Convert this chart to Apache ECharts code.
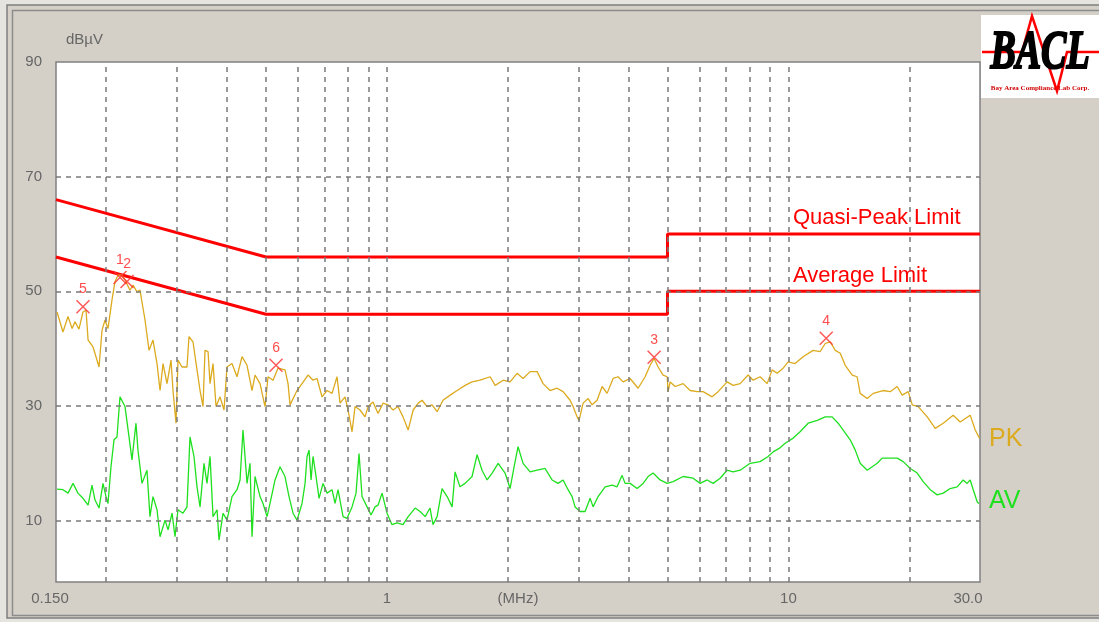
<!DOCTYPE html>
<html>
<head>
<meta charset="utf-8">
<script src="https://cdn.jsdelivr.net/npm/echarts@6.0.0/dist/echarts.min.js"></script>
<style>
  body { margin: 0; background: #e6e4de; }
  #chart { width: 1099px; height: 622px; }
</style>
</head>
<body>
<div id="chart"></div>
<script>
    // frequency in MHz, level in dBuV
    var pkFreq = [0.1509,0.1561,0.1607,0.1645,0.1673,0.1711,0.1751,0.1782,0.1803,0.1855,
        0.1920,0.1953,0.1987,0.2021,0.2068,0.2104,0.2140,0.2190,0.2228,0.2293,
        0.2333,0.2387,0.2428,0.2499,0.2557,0.2616,0.2677,0.2724,0.2771,0.2835,
        0.2901,0.2934,0.2985,0.3019,0.3089,0.3179,0.3216,0.3290,0.3367,0.3426,
        0.3485,0.3525,0.3587,0.3628,0.3691,0.3755,0.3842,0.3931,0.3999,0.4115,
        0.4235,0.4358,0.4486,0.4616,0.4696,0.4833,0.4973,0.5060,0.5207,0.5358,
        0.5577,0.5675,0.5740,0.5975,
        0.6149,0.6365,0.6550,0.6701,0.6896,0.7097,0.7303,0.7516,0.7646,0.7869,
        0.8005,0.8191,0.8333,0.8575,0.8825,0.8978,0.9239,0.9508,0.9785,1.007,
        1.036,1.066,1.097,1.130,1.163,1.197,1.224,1.259,1.296,1.334,
        1.380,1.438,1.496,1.566,1.630,1.707,1.808,1.861,1.948,2.027,
        2.110,2.184,2.274,2.367,
        2.449,2.550,2.654,2.747,2.860,2.909,2.977,3.011,3.081,3.171,
        3.245,3.339,3.436,3.536,3.660,3.766,3.875,4.034,4.224,4.397,
        4.525,4.630,4.737,4.875,4.989,5.017,5.075,5.223,5.468,5.692,
        5.925,6.132,6.457,6.683,7.037,7.284,7.582,7.938,8.169,8.504,
        8.852,9.109,9.375,
        9.703,9.985,10.39,10.88,11.52,12.00,12.35,12.71,13.08,13.46,
        13.85,14.42,14.83,15.09,15.71,16.26,17.22,17.93,18.66,19.20,
        19.88,20.34,21.05,22.17,23.21,24.30,25.72,26.78,28.36,29.19,
        29.90];
    var pkLevel = [46.4,42.9,45.6,43.5,44.7,43.4,46.4,46.7,41.5,40.3,
        36.8,43.2,45.0,43.5,48.5,51.7,52.8,52.8,52.0,50.2,
        51.1,49.9,50.2,45.0,39.7,41.5,37.4,32.7,37.4,33.9,
        38.0,32.7,27.0,38.0,36.8,36.8,42.1,41.2,36.3,32.7,
        29.9,39.7,39.5,33.9,37.4,29.9,31.6,29.3,36.8,37.4,
        35.1,38.6,37.1,32.7,35.4,33.9,29.9,35.1,34.5,36.6,
        36.3,33.9,30.2,32.7,
        33.9,35.4,34.5,34.8,31.6,32.7,32.2,35.1,30.5,31.6,
        29.3,25.5,29.9,29.3,28.1,29.9,30.7,28.7,30.5,30.2,
        29.3,29.9,28.1,25.8,29.3,30.5,31.0,29.9,30.2,29.0,
        31.0,31.9,32.7,33.6,34.2,34.5,35.1,33.6,34.5,34.2,
        35.7,34.8,36.0,36.0,
        33.9,32.7,33.1,32.5,31.0,29.9,28.1,27.5,30.5,31.3,
        30.2,31.0,33.4,32.2,34.8,35.1,34.2,34.8,33.1,35.1,
        37.1,38.3,36.8,35.4,35.1,32.5,34.2,33.4,33.9,32.7,
        32.5,32.5,31.6,32.5,34.2,33.6,33.9,35.4,34.5,35.1,
        33.9,36.3,35.7,
        36.6,37.7,37.4,38.6,39.7,39.5,40.9,41.2,39.7,39.2,
        37.1,35.4,35.1,32.2,31.3,32.2,32.7,32.5,33.4,31.9,
        32.5,30.2,29.9,28.1,26.1,27.0,28.4,27.2,28.4,25.8,
        24.4];

    var avFreq = [0.1509,0.1561,0.1607,0.1654,0.1701,0.1751,0.1803,0.1844,0.1876,0.1920,
        0.1964,0.1998,0.2021,0.2056,0.2092,0.2128,0.2165,0.2228,0.2280,0.2319,
        0.2373,0.2400,0.2456,0.2527,0.2571,0.2616,0.2677,0.2724,0.2803,0.2852,
        0.2918,0.2968,0.3019,0.3107,0.3179,0.3234,0.3309,0.3367,0.3426,0.3505,
        0.3566,0.3628,0.3691,0.3777,0.3820,0.3909,0.3999,0.4115,0.4235,0.4309,
        0.4383,0.4486,0.4563,0.4616,0.4696,0.4833,0.4916,0.5031,0.5118,0.5267,
        0.5420,0.5577,0.5707,0.5840,0.5975,0.6149,
        0.6256,0.6328,0.6401,0.6475,0.6550,0.6663,0.6779,0.6936,0.7097,0.7303,
        0.7430,0.7559,0.7779,0.7960,0.8191,0.8381,0.8526,0.8674,0.8927,0.9134,
        0.9346,0.9508,0.9729,1.001,1.030,1.060,1.097,1.130,1.176,1.210,
        1.246,1.281,1.303,1.334,1.372,1.413,1.454,1.479,1.521,1.566,
        1.630,1.678,1.726,1.777,1.829,1.893,1.970,2.027,2.074,2.122,
        2.184,2.274,2.367,
        2.478,2.579,2.669,2.747,2.827,2.893,2.943,3.029,3.117,3.208,
        3.263,3.358,3.496,3.639,3.744,3.853,3.920,4.034,4.200,4.347,
        4.473,4.603,4.792,4.989,5.163,5.468,5.791,6.028,6.275,6.495,
        6.760,7.037,7.284,7.582,8.030,8.504,8.902,9.161,9.483,
        9.815,10.28,10.69,11.20,11.80,12.35,12.85,13.30,13.69,14.25,
        14.67,15.09,15.71,16.17,16.64,17.12,17.93,18.66,19.31,20.11,
        20.93,21.66,22.55,23.47,24.30,25.28,26.32,27.24,27.88,28.36,
        28.86,29.52,29.80];
    var avLevel = [15.5,15.4,14.8,16.5,14.8,13.9,12.7,16.2,13.6,12.2,
        16.5,14.2,13.0,19.4,24.1,24.6,31.6,29.9,24.6,20.6,
        27.0,22.3,16.5,18.8,10.7,14.2,11.9,7.2,10.1,8.4,
        11.3,7.2,11.9,11.3,12.4,24.6,21.2,15.9,12.4,20.0,
        16.5,21.2,10.7,11.9,6.6,11.3,10.1,14.2,15.4,17.1,
        25.8,16.5,20.0,7.2,17.7,14.2,13.0,10.7,13.0,17.1,
        19.4,17.7,14.2,11.3,10.1,13.0,
        16.5,21.2,22.3,17.1,21.2,17.7,13.9,16.5,14.8,15.4,
        13.0,15.4,10.7,10.4,12.4,14.8,21.7,14.2,12.4,11.0,
        12.4,12.7,14.8,11.3,9.3,9.6,9.3,10.7,12.2,11.6,
        10.7,12.2,9.3,10.7,15.6,14.2,12.4,18.5,15.9,16.5,
        17.7,21.5,18.8,17.1,18.3,20.0,18.3,15.6,19.4,22.9,
        20.0,18.5,18.8,
        19.1,17.1,16.5,17.1,15.4,14.2,12.4,11.6,11.6,13.9,
        12.4,14.2,15.9,16.2,15.9,17.9,16.5,16.5,15.6,16.5,
        17.7,18.3,17.1,16.5,16.8,17.7,17.4,16.5,17.1,16.5,
        17.4,18.8,18.5,18.8,20.0,20.3,21.2,22.0,22.6,
        23.5,24.4,25.5,27.0,27.5,28.1,28.1,27.0,25.8,24.1,
        22.3,20.0,18.8,19.4,20.0,20.9,20.9,20.9,20.3,19.1,
        18.3,16.8,15.4,14.5,14.8,15.6,15.9,17.1,16.5,17.1,
        15.4,13.3,13.0];

    var limitFreq = [0.15, 0.5, 5, 5, 30];
    var qpLimit = [66, 56, 56, 60, 60];
    var avLimit = [56, 46, 46, 50, 50];

    var markerName = ['1', '2', '3', '4', '5', '6'];
    var markerFreq = [0.2165, 0.2254, 4.630, 12.42, 0.1751, 0.5297];
    var markerLevel = [52.4, 51.7, 38.5, 41.8, 47.3, 37.1];

    var vGrid = [0.2, 0.3, 0.4, 0.5, 0.6, 0.7, 0.8, 0.9, 1, 2, 3, 4, 5, 6, 7, 8, 9, 10, 20];
    var hGrid = [10, 30, 50, 70];
    var yLabels = [10, 30, 50, 70, 90];

    function pairs(xs, ys) {
        return xs.map(function (x, i) { return [x, ys[i]]; });
    }

    var font = 'Liberation Sans';
    var myChart = echarts.init(document.getElementById('chart'));
    var option;

    option = {
        animation: false,
        grid: {
            left: 56, top: 62, width: 924, height: 520,
            outerBoundsMode: 'none',
            show: true, backgroundColor: '#ffffff',
            borderColor: '#808080', borderWidth: 1.5
        },
        xAxis: {
            type: 'log', logBase: 10, min: 0.15, max: 30,
            axisLine: {show: false}, axisTick: {show: false}, splitLine: {show: false},
            axisLabel: {
                margin: 9, showMinLabel: true, showMaxLabel: true,
                color: '#666', fontSize: 15, fontFamily: font,
                formatter: function (v) {
                    if (Math.abs(v - 0.15) < 1e-6) return '{lo|0.150}';
                    if (Math.abs(v - 30) < 1e-6) return '{hi|30.0}';
                    return String(Math.round(v));
                },
                rich: {
                    lo: {color: '#666', fontSize: 15, fontFamily: font, padding: [0, 12, 0, 0]},
                    hi: {color: '#666', fontSize: 15, fontFamily: font, padding: [0, 24, 0, 0]}
                }
            },
            name: '(MHz)', nameLocation: 'middle', nameGap: 9, nameMoveOverlap: false,
            nameTextStyle: {color: '#666', fontSize: 15, fontFamily: font, verticalAlign: 'top'}
        },
        yAxis: {
            type: 'value', min: -0.7, max: 90,
            axisLine: {show: false}, axisTick: {show: false}, splitLine: {show: false},
            axisLabel: {
                customValues: yLabels, margin: 14,
                color: '#666', fontSize: 15, fontFamily: font
            },
            name: 'dBµV', nameLocation: 'end', nameGap: 15,
            nameTextStyle: {color: '#666', fontSize: 15, fontFamily: font, align: 'left', padding: [0, 0, 0, 10]}
        },
        graphic: [
            {type: 'rect', z: -10, shape: {x: 7, y: 5, width: 1200, height: 613},
                style: {fill: '#d4d0c8', stroke: '#7f7f7f', lineWidth: 1.5}},
            {type: 'rect', z: -9, shape: {x: 12.5, y: 10.5, width: 1200, height: 605},
                style: {fill: 'none', stroke: '#8c8c8c', lineWidth: 1.5}},
            // logo
            {type: 'rect', shape: {x: 981, y: 15, width: 118, height: 83}, style: {fill: '#ffffff'}},
            {type: 'polyline', shape: {points: [[982, 52], [1022, 52], [1032, 16], [1057, 91], [1067, 52], [1099, 52]]},
                style: {stroke: '#ff0000', lineWidth: 2.5, fill: 'none'}},
            {type: 'text', x: 1040, y: 54, scaleY: 1.45, z: 10,
                style: {text: 'BACL', font: 'italic bold 38px "Liberation Serif"', fill: '#000',
                    stroke: '#000', lineWidth: 1.5, align: 'center', verticalAlign: 'middle'}},
            {type: 'text', x: 1040, y: 88, z: 10,
                style: {text: 'Bay Area Compliance Lab Corp.', font: 'bold 7px "Liberation Serif"', fill: '#d00000',
                    align: 'center', verticalAlign: 'middle'}},
            // annotations
            {type: 'text', x: 793, y: 218, z: 10,
                style: {text: 'Quasi-Peak Limit', font: '22px "Liberation Sans"', fill: '#ff0000', verticalAlign: 'middle'}},
            {type: 'text', x: 793, y: 276, z: 10,
                style: {text: 'Average Limit', font: '22px "Liberation Sans"', fill: '#ff0000', verticalAlign: 'middle'}},
            {type: 'text', x: 989, y: 439, z: 10,
                style: {text: 'PK', font: '25px "Liberation Sans"', fill: '#dcaa1e', verticalAlign: 'middle'}},
            {type: 'text', x: 989, y: 501, z: 10,
                style: {text: 'AV', font: '25px "Liberation Sans"', fill: '#1ee01e', verticalAlign: 'middle'}}
        ],
        series: [
            {
                name: 'grid', type: 'line', data: [], z: 1, silent: true,
                markLine: {
                    silent: true, symbol: 'none', label: {show: false},
                    lineStyle: {color: '#7a7a7a', type: [5, 5], width: 1.5},
                    data: vGrid.map(function (v) { return {xAxis: v}; })
                        .concat(hGrid.map(function (v) { return {yAxis: v}; }))
                }
            },
            {
                name: 'Quasi-Peak Limit', type: 'line', data: pairs(limitFreq, qpLimit), z: 3,
                showSymbol: false, lineStyle: {color: '#ff0000', width: 3}
            },
            {
                name: 'Average Limit', type: 'line', data: pairs(limitFreq, avLimit), z: 3,
                showSymbol: false, lineStyle: {color: '#ff0000', width: 3}
            },
            {
                name: 'PK', type: 'line', data: pairs(pkFreq, pkLevel), z: 4,
                showSymbol: false, lineStyle: {color: '#dcaa1e', width: 1.3}
            },
            {
                name: 'AV', type: 'line', data: pairs(avFreq, avLevel), z: 4,
                showSymbol: false, lineStyle: {color: '#1ee01e', width: 1.3}
            },
            {
                name: 'markers', type: 'scatter', z: 5,
                data: markerFreq.map(function (f, i) { return [f, markerLevel[i], markerName[i]]; }),
                symbol: 'path://M0,0L10,10M10,0L0,10', symbolSize: 13,
                itemStyle: {color: 'rgba(0,0,0,0)', borderColor: '#ff3030', borderWidth: 1.5},
                label: {
                    show: true, position: 'top', distance: 3,
                    color: '#ff2020', fontSize: 14, fontFamily: font,
                    formatter: function (p) { return p.data[2]; }
                }
            }
        ]
    };

    option && myChart.setOption(option);
</script>
</body>
</html>
